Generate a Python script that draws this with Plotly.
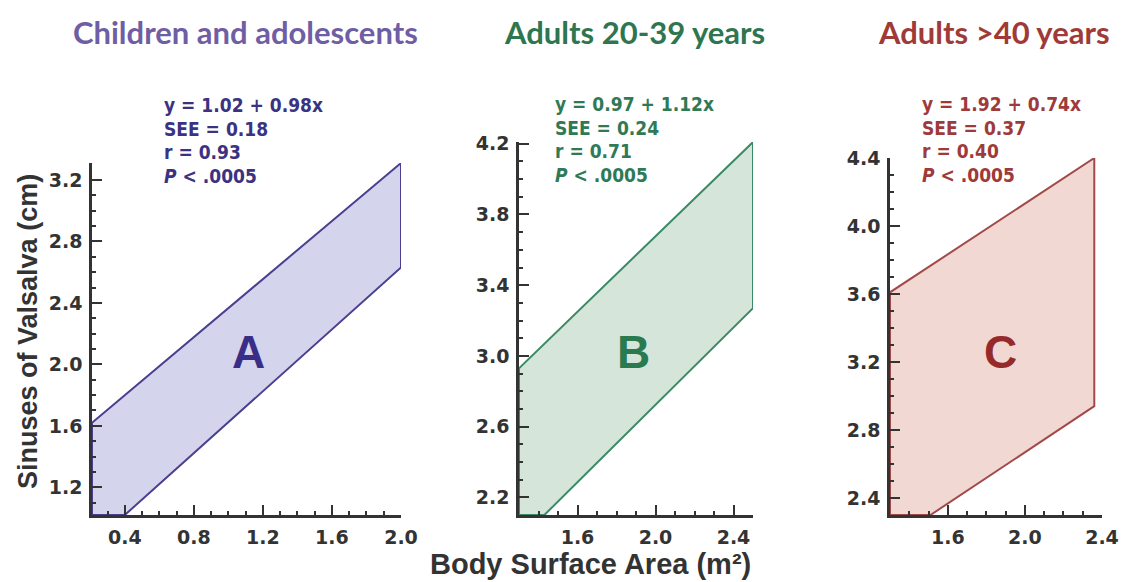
import plotly.graph_objects as go

W, H = 1124, 582

# ---- data ----
panel_titles = ["Children and adolescents", "Adults 20-39 years", "Adults >40 years"]
panel_letters = ["A", "B", "C"]

# confidence-band polygons (vertices)
band_a_x = [0.21, 2.00, 2.00, 0.40, 0.21, 0.21]
band_a_y = [1.62, 3.31, 2.63, 1.02, 1.02, 1.62]
band_b_x = [1.30, 2.50, 2.50, 1.43, 1.30, 1.30]
band_b_y = [2.93, 4.21, 3.27, 2.10, 2.10, 2.93]
band_c_x = [1.30, 2.36, 2.36, 1.51, 1.30, 1.30]
band_c_y = [3.61, 4.40, 2.94, 2.30, 2.30, 3.61]

stats_a = ["y = 1.02 + 0.98x", "SEE = 0.18", "r = 0.93", "<i>P</i> < .0005"]
stats_b = ["y = 0.97 + 1.12x", "SEE = 0.24", "r = 0.71", "<i>P</i> < .0005"]
stats_c = ["y = 1.92 + 0.74x", "SEE = 0.37", "r = 0.40", "<i>P</i> < .0005"]

xticks_a = [0.4, 0.8, 1.2, 1.6, 2.0]
yticks_a = [1.2, 1.6, 2.0, 2.4, 2.8, 3.2]
xticks_b = [1.6, 2.0, 2.4]
yticks_b = [2.2, 2.6, 3.0, 3.4, 3.8, 4.2]
xticks_c = [1.6, 2.0, 2.4]
yticks_c = [2.4, 2.8, 3.2, 3.6, 4.0, 4.4]

x_title = "Body Surface Area (m²)"
y_title = "Sinuses of Valsalva (cm)"

# ---- styling ----
line_cols = ["#4b3f8f", "#3a8a66", "#a24a4a"]
fill_cols = ["#d4d4ec", "#d5e5da", "#f2d8d2"]
text_cols = ["#3b3282", "#2f7a55", "#9e3a3a"]
title_cols = ["#6f5ea3", "#2e7550", "#a03a36"]
letter_cols = ["#3a2d88", "#2a7a50", "#962a2a"]
tick_col = "#333333"

def px(x):
    return x / W

def py(y):
    return (H - y) / H

def minor_vals(lo, hi):
    n0 = int(round(lo * 10 + 0.4999))
    n1 = int(round(hi * 10))
    return [k / 10 for k in range(n0, n1 + 1)]

# pixel layout of each plot area: (left, right, top, bottom)
boxes = [(92, 401, 163, 515), (519, 753, 142, 515), (890, 1102, 158, 515)]
xranges = [[0.21, 2.0], [1.30, 2.50], [1.30, 2.40]]
yranges = [[1.02, 3.31], [2.10, 4.21], [2.30, 4.40]]
xticks = [xticks_a, xticks_b, xticks_c]
yticks = [yticks_a, yticks_b, yticks_c]
bands = [(band_a_x, band_a_y), (band_b_x, band_b_y), (band_c_x, band_c_y)]
stats = [stats_a, stats_b, stats_c]
stats_pos = [(162, 105), (553, 104), (920, 104)]
title_pos = [245, 634, 994]
letter_pos = [(248, 352), (633, 352), (1000, 352)]

fig = go.Figure()
layout = dict(
    width=W, height=H,
    margin=dict(l=0, r=0, t=0, b=0, pad=0, autoexpand=False),
    paper_bgcolor="white", plot_bgcolor="white",
    showlegend=False,
)

tickfont = dict(family="DejaVu Sans, sans-serif", size=19, color=tick_col, weight="bold")

annotations = []
for i in range(3):
    sfx = "" if i == 0 else str(i + 1)
    bx, by = bands[i]
    fig.add_trace(go.Scatter(
        x=bx, y=by, mode="lines", fill="toself",
        fillcolor=fill_cols[i], line=dict(color=line_cols[i], width=2),
        xaxis="x" + sfx, yaxis="y" + sfx, hoverinfo="skip",
    ))
    l, r, t, b = boxes[i]
    xr, yr = xranges[i], yranges[i]
    x_end = max(xticks[i])
    y_end = max(yticks[i])
    common = dict(
        showgrid=False, zeroline=False, showline=True, linecolor=tick_col,
        linewidth=2.5, layer="above traces",
        ticks="inside", ticklen=10, tickwidth=2, tickcolor=tick_col,
        tickfont=tickfont, tickformat=".1f", automargin=False,
    )
    layout["xaxis" + sfx] = dict(
        common, domain=[px(l), px(r)], range=xr,
        tickmode="array", tickvals=xticks[i], anchor="y" + sfx,
        ticklabelstandoff=3,
        minor=dict(ticks="inside", ticklen=4, tickwidth=1.5, tickcolor=tick_col,
                   tickmode="array", tickvals=minor_vals(xr[0], x_end), showgrid=False),
    )
    layout["yaxis" + sfx] = dict(
        common, domain=[py(b), py(t)], range=yr,
        tickmode="array", tickvals=yticks[i], anchor="x" + sfx,
        ticklabelstandoff=3,
        minor=dict(ticks="inside", ticklen=4, tickwidth=1.5, tickcolor=tick_col,
                   tickmode="array", tickvals=minor_vals(yr[0], y_end), showgrid=False),
    )
    # panel title
    annotations.append(dict(
        x=px(title_pos[i]), y=py(32), xref="paper", yref="paper",
        text="<b>%s</b>" % panel_titles[i], showarrow=False,
        font=dict(family="Lato, Open Sans, sans-serif", size=31, color=title_cols[i]),
        xanchor="center", yanchor="middle",
    ))
    # stats block
    sx, sy = stats_pos[i]
    for k, s in enumerate(stats[i]):
        annotations.append(dict(
            x=px(sx), y=py(sy + 23.5 * k), xref="paper", yref="paper",
            text=s, showarrow=False,
            font=dict(family="Liberation Sans Narrow, DejaVu Sans Condensed, Arial Narrow, sans-serif",
                      size=19, color=text_cols[i], weight="bold"),
            xanchor="left", yanchor="middle",
        ))
    # big letter
    lx, ly = letter_pos[i]
    annotations.append(dict(
        x=px(lx), y=py(ly), xref="paper", yref="paper",
        text="<b>%s</b>" % panel_letters[i], showarrow=False,
        font=dict(family="Arial, Liberation Sans, sans-serif", size=46, color=letter_cols[i]),
        xanchor="center", yanchor="middle",
    ))

annotations.append(dict(
    x=px(590), y=py(564), xref="paper", yref="paper",
    text="<b>%s</b>" % x_title, showarrow=False,
    font=dict(family="Arial, Liberation Sans, sans-serif", size=29, color=tick_col),
    xanchor="center", yanchor="middle",
))
annotations.append(dict(
    x=px(28), y=py(332), xref="paper", yref="paper",
    text="<b>%s</b>" % y_title, showarrow=False, textangle=-90,
    font=dict(family="Arial, Liberation Sans, sans-serif", size=27, color=tick_col),
    xanchor="center", yanchor="middle",
))
layout["annotations"] = annotations
fig.update_layout(**layout)
fig.write_html(
    "out.html",
    config={"displayModeBar": False},
    post_script="document.body.style.margin='0';document.body.style.overflow='hidden';",
)
